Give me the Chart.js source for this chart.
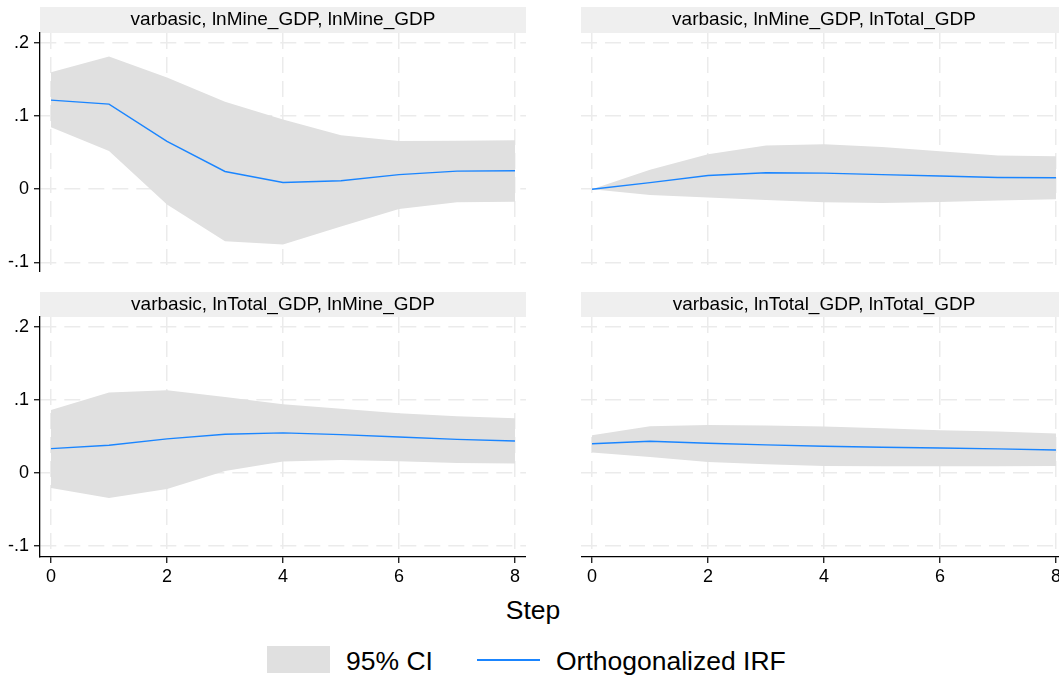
<!DOCTYPE html>
<html>
<head>
<meta charset="utf-8">
<script src="https://cdn.jsdelivr.net/npm/chart.js@4.4.0/dist/chart.umd.min.js"></script>
<style>
    html, body {
        margin: 0;
        padding: 0;
        width: 1059px;
        height: 677px;
        overflow: hidden;
        background: #fff;
        font-family: "Liberation Sans", Arial, sans-serif;
    }
    canvas {
        position: absolute;
    }
    .axis-title {
        position: absolute;
        left: 433px;
        top: 597px;
        width: 200px;
        text-align: center;
        font-size: 26.5px;
        line-height: 26.5px;
    }
    .legend-box {
        position: absolute;
        left: 267px;
        top: 646px;
        width: 63px;
        height: 27px;
        background: #e0e0e0;
    }
    .legend-line {
        position: absolute;
        left: 477px;
        top: 659px;
        width: 63px;
        height: 2px;
        background: #1a85ff;
    }
    .legend-text {
        position: absolute;
        top: 648px;
        font-size: 26.5px;
        line-height: 26.5px;
        white-space: nowrap;
    }
</style>
</head>
<body>
<canvas id="mineMine" width="526" height="272" style="left:0;top:0"></canvas>
<canvas id="mineTotal" width="486" height="272" style="left:581px;top:0"></canvas>
<canvas id="totalMine" width="526" height="307" style="left:0;top:285px"></canvas>
<canvas id="totalTotal" width="486" height="307" style="left:581px;top:285px"></canvas>

<div class="axis-title">Step</div>
<div class="legend-box"></div>
<div class="legend-text" style="left:346px">95% CI</div>
<div class="legend-line"></div>
<div class="legend-text" style="left:556px">Orthogonalized IRF</div>

<script>
const steps = [0, 1, 2, 3, 4, 5, 6, 7, 8];
const xTicks = [0, 2, 4, 6, 8];
const yTicks = [-0.1, 0, 0.1, 0.2];

// impulse lnMine_GDP, response lnMine_GDP
const mineMineIrf = [0.122, 0.1165, 0.0656, 0.0243, 0.0092, 0.0115, 0.020, 0.0248, 0.0252];
const mineMineUpper = [0.160, 0.1817, 0.153, 0.1197, 0.0954, 0.0739, 0.066, 0.0665, 0.067];
const mineMineLower = [0.0849, 0.0523, -0.021, -0.0711, -0.0757, -0.051, -0.027, -0.018, -0.017];

// impulse lnMine_GDP, response lnTotal_GDP
const mineTotalIrf = [0, 0.009, 0.0188, 0.0225, 0.022, 0.020, 0.018, 0.016, 0.0156];
const mineTotalUpper = [0, 0.0266, 0.048, 0.060, 0.0615, 0.0578, 0.052, 0.0463, 0.045];
const mineTotalLower = [0, -0.008, -0.0115, -0.0147, -0.018, -0.0188, -0.0174, -0.0156, -0.0138];

// impulse lnTotal_GDP, response lnMine_GDP
const totalMineIrf = [0.0333, 0.038, 0.0466, 0.053, 0.0548, 0.0525, 0.0493, 0.046, 0.0438];
const totalMineUpper = [0.0863, 0.110, 0.1132, 0.104, 0.094, 0.088, 0.0817, 0.0776, 0.0749];
const totalMineLower = [-0.0205, -0.0342, -0.0219, 0.0027, 0.0155, 0.0178, 0.016, 0.0137, 0.0128];

// impulse lnTotal_GDP, response lnTotal_GDP
const totalTotalIrf = [0.040, 0.0434, 0.0406, 0.0384, 0.0365, 0.0352, 0.0342, 0.0329, 0.0315];
const totalTotalUpper = [0.0516, 0.064, 0.0658, 0.0648, 0.0635, 0.0612, 0.0584, 0.0566, 0.0539];
const totalTotalLower = [0.0279, 0.0219, 0.0151, 0.0119, 0.0096, 0.0091, 0.0091, 0.0091, 0.0096];

const ciColor = "#e0e0e0";
const irfColor = "#1a85ff";
const gridColor = "#ebebeb";
const headerColor = "#efefef";

Chart.defaults.font.family = "'Liberation Sans', Arial, sans-serif";
Chart.defaults.color = "#000";

// paints the grey strip behind each panel title
const titleBand = {
    id: "titleBand",
    beforeDraw(chart) {
        const box = chart.titleBlock;
        if (!box) {
            return;
        }
        const ctx = chart.ctx;
        ctx.save();
        ctx.fillStyle = headerColor;
        ctx.fillRect(box.left, box.top, box.width, box.height);
        ctx.restore();
    }
};

function toPoints(values) {
    return steps.map((s, i) => ({x: s, y: values[i]}));
}

function tickLabel(v) {
    const r = Math.round(v * 10) / 10;
    return String(r).replace("0.", ".");
}

function buildPanel(canvasId, title, irf, lower, upper, layout) {
    // chart.js draws dataset 0 last, so the IRF line goes first to sit on top of the band
    return new Chart(canvasId, {
        type: "line",
        data: {
            datasets: [
                {
                    label: "Orthogonalized IRF",
                    data: toPoints(irf),
                    borderColor: irfColor,
                    borderWidth: 1.4,
                    pointRadius: 0,
                    fill: false
                },
                {
                    label: "95% CI",
                    data: toPoints(upper),
                    borderColor: "rgba(0,0,0,0)",
                    borderWidth: 0,
                    backgroundColor: ciColor,
                    pointRadius: 0,
                    fill: "+1"
                },
                {
                    label: "lower",
                    data: toPoints(lower),
                    borderColor: "rgba(0,0,0,0)",
                    borderWidth: 0,
                    pointRadius: 0,
                    fill: false
                }
            ]
        },
        plugins: [titleBand],
        options: {
            responsive: false,
            animation: false,
            layout: {
                padding: {top: 7, left: 0, right: 0, bottom: 0}
            },
            scales: {
                x: {
                    type: "linear",
                    min: -0.19,
                    max: 8.19,
                    afterBuildTicks: s => { s.ticks = xTicks.map(v => ({value: v})); },
                    afterFit: s => {
                        s.height = layout.bottomAxis ? 35 : 0;
                        s.paddingLeft = 0;
                        s.paddingRight = 0;
                    },
                    grid: {
                        color: gridColor,
                        lineWidth: 1.5,
                        drawTicks: layout.bottomAxis,
                        tickLength: 6,
                        tickColor: "#000",
                        tickWidth: 1.2
                    },
                    border: {
                        display: layout.bottomAxis,
                        color: "#000",
                        width: 1.3,
                        dash: [16, 8]
                    },
                    ticks: {
                        display: layout.bottomAxis,
                        font: {size: 18},
                        padding: 3,
                        maxRotation: 0
                    }
                },
                y: {
                    type: "linear",
                    min: layout.yMin,
                    max: layout.yMax,
                    afterBuildTicks: s => { s.ticks = yTicks.map(v => ({value: v})); },
                    afterFit: s => {
                        s.width = layout.leftAxis ? 40 : 0;
                        s.paddingTop = 0;
                        s.paddingBottom = 0;
                    },
                    grid: {
                        color: gridColor,
                        lineWidth: 1.5,
                        drawTicks: layout.leftAxis,
                        tickLength: 6,
                        tickColor: "#000",
                        tickWidth: 1.2
                    },
                    border: {
                        display: layout.leftAxis,
                        color: "#000",
                        width: 1.3,
                        dash: [16, 8]
                    },
                    ticks: {
                        display: layout.leftAxis,
                        font: {size: 18},
                        padding: 5,
                        callback: tickLabel
                    }
                }
            },
            plugins: {
                legend: {
                    display: false
                },
                tooltip: {
                    enabled: false
                },
                title: {
                    display: true,
                    text: title,
                    fullSize: false,
                    color: "#000",
                    font: {size: 19, weight: "normal", lineHeight: 1.2},
                    padding: layout.titlePadding
                }
            }
        }
    });
}

const topRow = {yMin: -0.1133, yMax: 0.2138, bottomAxis: false, titlePadding: {top: 1.6, bottom: 1.6}};
const bottomRow = {yMin: -0.1151, yMax: 0.2135, bottomAxis: true, titlePadding: {top: 1.1, bottom: 1.1}};

buildPanel("mineMine", "varbasic, lnMine_GDP, lnMine_GDP",
    mineMineIrf, mineMineLower, mineMineUpper, {...topRow, leftAxis: true});
buildPanel("mineTotal", "varbasic, lnMine_GDP, lnTotal_GDP",
    mineTotalIrf, mineTotalLower, mineTotalUpper, {...topRow, leftAxis: false});
buildPanel("totalMine", "varbasic, lnTotal_GDP, lnMine_GDP",
    totalMineIrf, totalMineLower, totalMineUpper, {...bottomRow, leftAxis: true});
buildPanel("totalTotal", "varbasic, lnTotal_GDP, lnTotal_GDP",
    totalTotalIrf, totalTotalLower, totalTotalUpper, {...bottomRow, leftAxis: false});
</script>
</body>
</html>
